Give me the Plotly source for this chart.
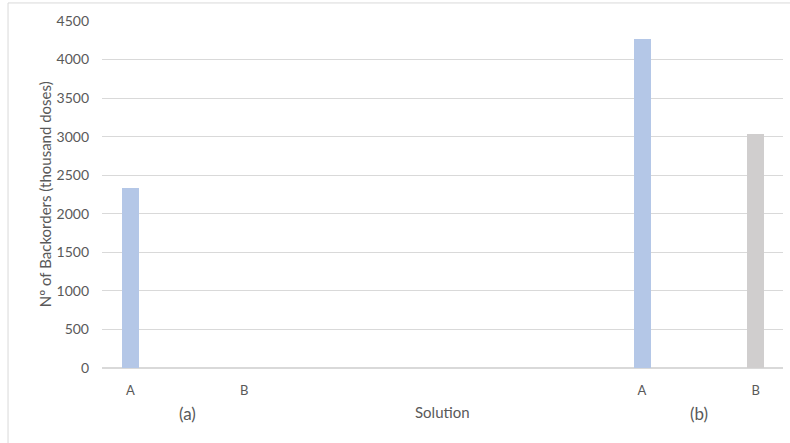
import plotly.graph_objects as go

# Backorders (thousand doses) per solution, for each scenario
groups = ["(a)", "(b)"]
solutions = ["A", "B"]
backorders_a = [2330, 0]
backorders_b = [4270, 3040]
bar_colors = ["#B4C7E7", "#D0CECE"]

y_ticks = [0, 500, 1000, 1500, 2000, 2500, 3000, 3500, 4000, 4500]

# Horizontal layout: solutions one unit apart, scenarios spaced further
group_gap = 4.5
series = {"(a)": backorders_a, "(b)": backorders_b}

fig = go.Figure()
tick_pos, tick_txt = [], []
for si, sol in enumerate(solutions):
    xs, ys = [], []
    for gi, g in enumerate(groups):
        xs.append(gi * group_gap + si)
        ys.append(series[g][si])
    fig.add_trace(go.Bar(
        x=xs, y=ys, name=sol, width=0.15,
        marker=dict(color=bar_colors[si], line=dict(width=0)),
        showlegend=False,
    ))
for gi, g in enumerate(groups):
    for si, sol in enumerate(solutions):
        tick_pos.append(gi * group_gap + si)
        tick_txt.append(sol)

txt = "#595959"
font_family = "Lato, 'Open Sans', sans-serif"

annotations = []
for gi, g in enumerate(groups):
    annotations.append(dict(
        x=gi * group_gap + 0.5, y=-0.13, xref="x", yref="paper",
        text=g, showarrow=False, font=dict(size=17, color=txt, family=font_family),
        xanchor="center", yanchor="middle",
    ))
annotations.append(dict(
    x=0.5, y=-0.128, xref="paper", yref="paper", text="Solution", showarrow=False,
    font=dict(size=15, color=txt, family=font_family), xanchor="center", yanchor="middle",
))
annotations.append(dict(
    x=-0.084, y=0.5, xref="paper", yref="paper", text="Nº of Backorders (thousand doses)",
    showarrow=False, textangle=-90, font=dict(size=15, color=txt, family=font_family),
    xanchor="center", yanchor="middle",
))

fig.update_layout(
    width=790, height=443,
    margin=dict(l=102, r=7, t=21, b=75),
    paper_bgcolor="white", plot_bgcolor="white",
    font=dict(family=font_family, color=txt, size=12),
    bargap=0,
    annotations=annotations,
    shapes=[dict(
        type="rect", xref="paper", yref="paper",
        x0=-0.138, x1=1.2, y0=-0.3, y1=1.052,
        line=dict(color="#D9D9D9", width=1), fillcolor="rgba(0,0,0,0)", layer="below",
    )],
)
fig.update_xaxes(
    range=[-0.25, 5.74], tickmode="array", tickvals=tick_pos, ticktext=tick_txt,
    showgrid=False, zeroline=False, showline=False, ticks="",
    ticklabelstandoff=13, tickfont=dict(size=13, color=txt),
)
fig.update_yaxes(
    range=[0, 4500], tickmode="array", tickvals=y_ticks,
    gridcolor="#D9D9D9", gridwidth=1, zeroline=True, zerolinecolor="#D9D9D9",
    showline=False, ticks="", ticklabelstandoff=12, tickfont=dict(size=14, color=txt),
)

fig.write_html("out.html")
